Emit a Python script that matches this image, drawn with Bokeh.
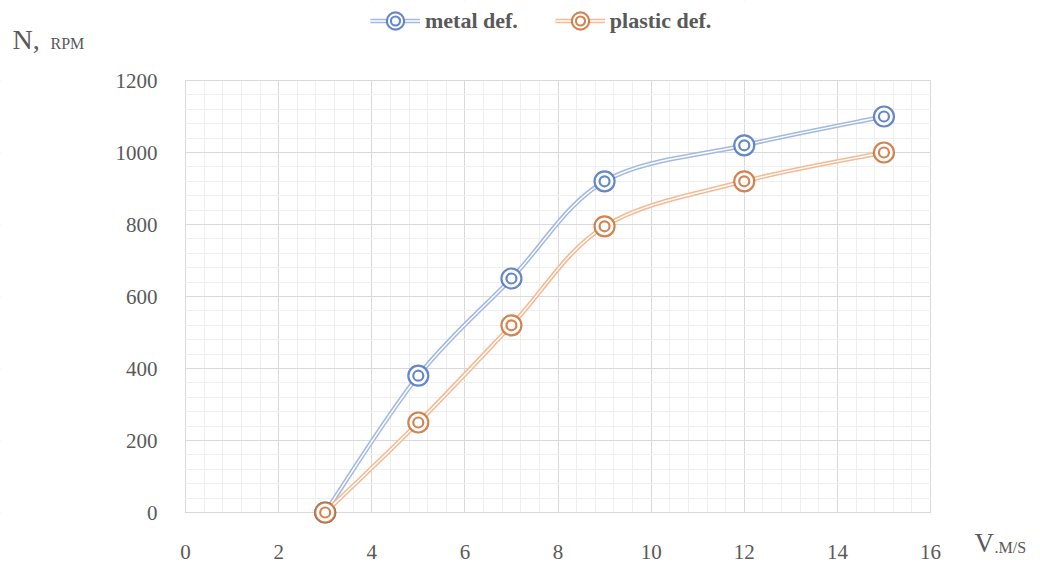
import numpy as np
from bokeh.plotting import figure
from bokeh.models import (Range1d, SingleIntervalTicker, Legend, LegendItem, Label,
                          ColumnDataSource, BoxAnnotation)
from bokeh.embed import file_html
from bokeh.resources import INLINE

# ---- data ----
speed = [3, 5, 7, 9, 12, 15]
metal = [0, 380, 650, 920, 1020, 1100]
plastic = [0, 250, 520, 795, 920, 1000]
series_names = ["metal def.", "plastic def."]
x_ticks = [0, 2, 4, 6, 8, 10, 12, 14, 16]
y_ticks = [0, 200, 400, 600, 800, 1000, 1200]

FONT = "Liberation Serif"
TXT = "#595959"

# canvas geometry (pixels) -> the data area occupies [185, 930] x [80, 512]
W, H = 1040, 564
L, R, T, B = 185, 930, 80, 512
XMIN, XMAX = x_ticks[0], x_ticks[-1]
YMIN, YMAX = y_ticks[0], y_ticks[-1]
sx = (R - L) / (XMAX - XMIN)
sy = (B - T) / (YMAX - YMIN)


def dx(px):
    return XMIN + (px - L) / sx


def dy(py):
    return YMIN + (B - py) / sy


p = figure(width=W, height=H, output_backend="svg", toolbar_location=None,
           x_range=Range1d(dx(0), dx(W)), y_range=Range1d(dy(H), dy(0)),
           min_border=0)
p.outline_line_color = None
p.background_fill_color = "white"
p.border_fill_color = "white"

p.xaxis.ticker = SingleIntervalTicker(interval=2, num_minor_ticks=5)
p.yaxis.ticker = SingleIntervalTicker(interval=200, num_minor_ticks=5)
p.xaxis.fixed_location = YMIN
p.yaxis.fixed_location = XMIN
p.xaxis.bounds = (XMIN, XMAX)
p.yaxis.bounds = (YMIN, YMAX)
for ax in (p.xaxis, p.yaxis):
    ax.axis_line_color = None
    ax.major_tick_line_color = None
    ax.minor_tick_line_color = None
    ax.major_label_text_font = FONT
    ax.major_label_text_font_size = "21px"
    ax.major_label_text_color = TXT
p.xaxis.major_label_standoff = 26
p.yaxis.major_label_standoff = 22

p.xgrid.ticker = p.xaxis.ticker
p.ygrid.ticker = p.yaxis.ticker
for g in (p.xgrid, p.ygrid):
    g.grid_line_color = "#d9d9d9"
    g.grid_line_width = 1
    g.minor_grid_line_color = "#efefef"
    g.minor_grid_line_width = 1

# white masks so that the grid only covers the data area
e = 0.6
for kw in (dict(right=dx(L - e)), dict(left=dx(R + e)),
           dict(bottom=dy(T - e)), dict(top=dy(B + e))):
    p.add_layout(BoxAnnotation(fill_color="white", fill_alpha=1, line_color=None,
                               level="underlay", **kw))


def smooth_segments(xs, ys):
    xs = np.asarray(xs, float)
    ys = np.asarray(ys, float)
    n = len(xs)
    d = dict(x0=[], y0=[], x1=[], y1=[], cx0=[], cy0=[], cx1=[], cy1=[])
    for i in range(n - 1):
        im = max(i - 1, 0)
        ip2 = min(i + 2, n - 1)
        d["x0"].append(xs[i]); d["y0"].append(ys[i])
        d["x1"].append(xs[i + 1]); d["y1"].append(ys[i + 1])
        d["cx0"].append(xs[i] + (xs[i + 1] - xs[im]) / 6)
        d["cy0"].append(ys[i] + (ys[i + 1] - ys[im]) / 6)
        d["cx1"].append(xs[i + 1] - (xs[ip2] - xs[i]) / 6)
        d["cy1"].append(ys[i + 1] - (ys[ip2] - ys[i]) / 6)
    return ColumnDataSource(d)


styles = [
    dict(vals=metal, line="#a3b9e3", mark="#5077be", alpha=0.88),
    dict(vals=plastic, line="#f5ba93", mark="#c8692c", alpha=0.82),
]

items = []
for name, st in zip(series_names, styles):
    src = smooth_segments(speed, st["vals"])
    bz = dict(x0="x0", y0="y0", x1="x1", y1="y1", cx0="cx0", cy0="cy0", cx1="cx1", cy1="cy1",
              source=src)
    p.bezier(line_color=st["line"], line_width=4.5, **bz)
    p.bezier(line_color="white", line_width=1.4, **bz)
    p.scatter(speed, st["vals"], size=20, marker="circle", fill_color="white",
              line_color=st["mark"], line_width=2.2, line_alpha=st["alpha"])
    p.scatter(speed, st["vals"], size=10, marker="circle", fill_color=None,
              line_color=st["mark"], line_width=2.2, line_alpha=st["alpha"])
    # legend-only renderers (no data drawn)
    lo = p.line(x=[np.nan], y=[np.nan], line_color=st["line"], line_width=4.5)
    li = p.line(x=[np.nan], y=[np.nan], line_color="white", line_width=1.4)
    mo = p.scatter(x=[np.nan], y=[np.nan], marker="circle", fill_color="white",
                   line_color=st["mark"], line_width=6.2, line_alpha=st["alpha"])
    mi = p.scatter(x=[np.nan], y=[np.nan], marker="circle", fill_color=None,
                   line_color="white", line_width=2.0)
    items.append(LegendItem(label=name, renderers=[lo, li, mo, mi]))

legend = Legend(items=items, orientation="horizontal", location=(370, H - 37),
                glyph_width=50, glyph_height=33, label_standoff=5, spacing=37,
                padding=0, margin=0, border_line_color=None, background_fill_alpha=0,
                label_text_font=FONT, label_text_font_style="bold",
                label_text_font_size="22px", label_text_color=TXT)
p.add_layout(legend, "center")

# axis titles
p.add_layout(Label(x=dx(12), y=dy(54), text="N,", text_font=FONT, text_font_size="28px",
                   text_color=TXT, text_baseline="bottom"))
p.add_layout(Label(x=dx(50), y=dy(51), text="RPM", text_font=FONT, text_font_size="16px",
                   text_color=TXT, text_baseline="bottom"))
p.add_layout(Label(x=dx(974), y=dy(557), text="V", text_font=FONT, text_font_size="27px",
                   text_color=TXT, text_baseline="bottom"))
p.add_layout(Label(x=dx(994), y=dy(555), text=".M/S", text_font=FONT, text_font_size="16px",
                   text_color=TXT, text_baseline="bottom"))

open("out.html", "w").write(file_html(p, INLINE))
